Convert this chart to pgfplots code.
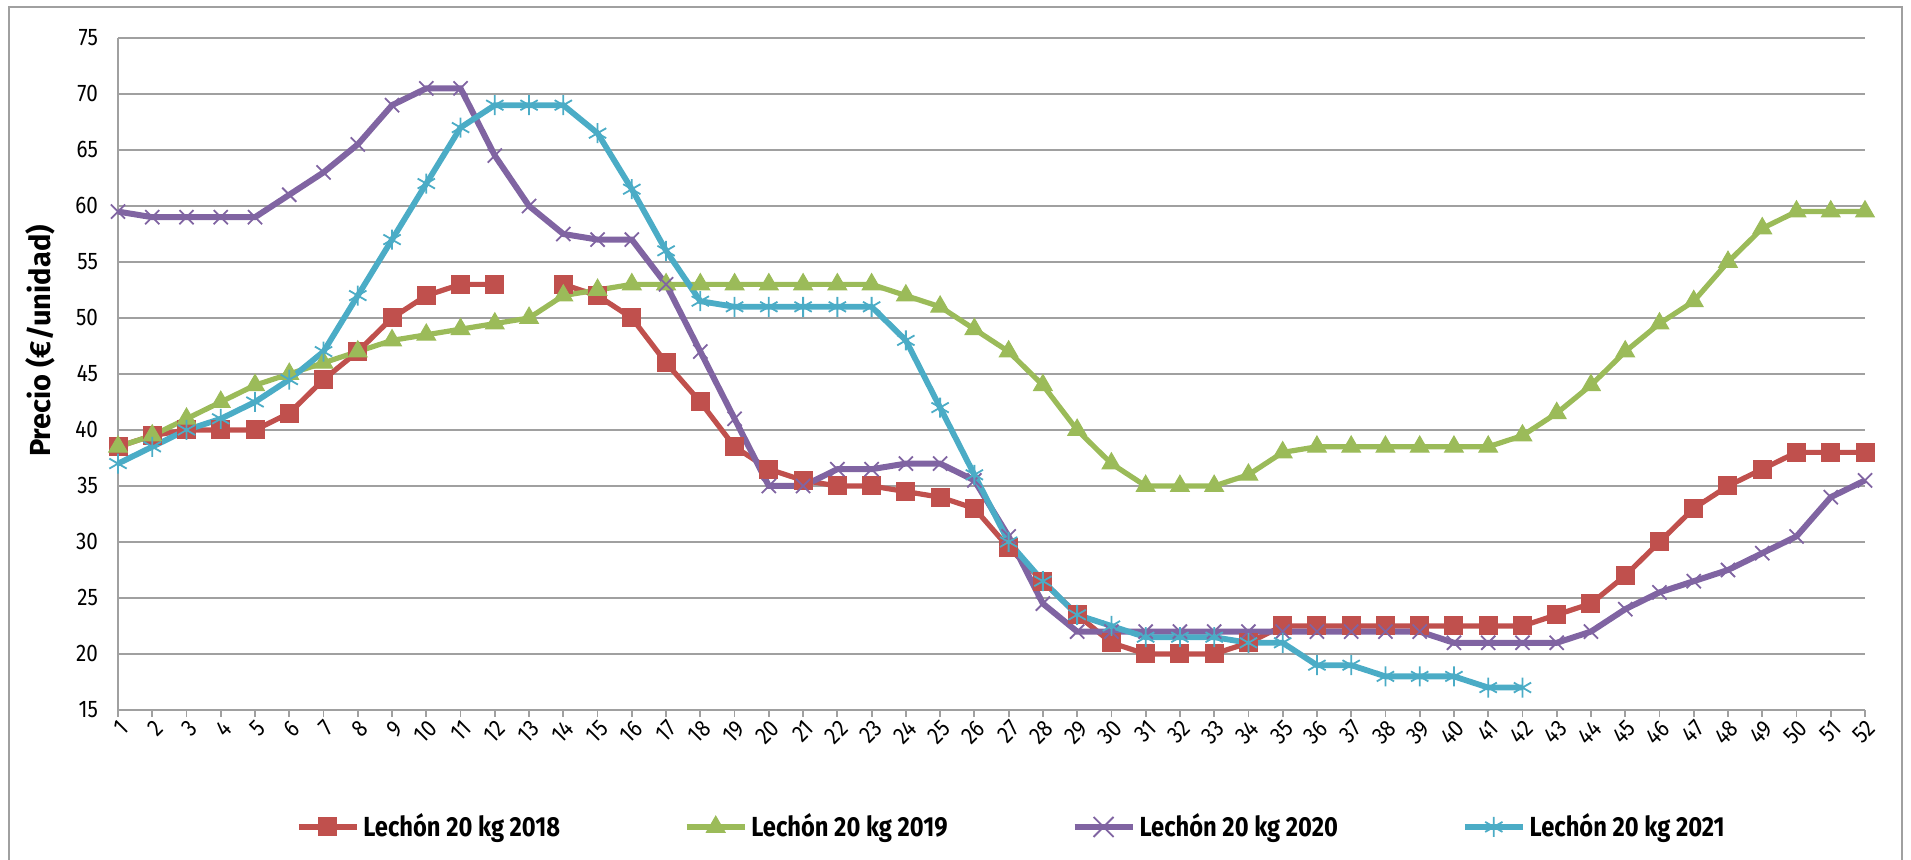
\documentclass[border=0pt]{standalone}
\usepackage{fontspec}
\setmainfont{Fira Sans}
\newfontfamily\condfont{Fira Sans}[FakeStretch=0.86]
\usepackage{pgfplots}
\usepackage{pgfplotstable}
\pgfplotsset{compat=1.18}
\definecolor{cred}{RGB}{192,80,77}
\definecolor{cgreen}{RGB}{155,187,89}
\definecolor{cpurple}{RGB}{128,100,162}
\definecolor{ccyan}{RGB}{75,172,198}
\definecolor{cgrid}{RGB}{160,160,160}
\pgfplotstableread{
w v
1 59.5
2 59
3 59
4 59
5 59
6 61
7 63
8 65.5
9 69
10 70.5
11 70.5
12 64.5
13 60
14 57.5
15 57
16 57
17 53
18 47
19 41
20 35
21 35
22 36.5
23 36.5
24 37
25 37
26 35.5
27 30.5
28 24.5
29 22
30 22
31 22
32 22
33 22
34 22
35 22
36 22
37 22
38 22
39 22
40 21
41 21
42 21
43 21
44 22
45 24
46 25.5
47 26.5
48 27.5
49 29
50 30.5
51 34
52 35.5
}\purpledata
\begin{document}
\begin{tikzpicture}[x=1pt,y=1pt]
\useasboundingbox (0,0) rectangle (955.5,430);
\draw[cgrid, line width=0.9pt] (4.3,-3) -- (4.3,426.5) -- (951,426.5) -- (951,-3);
\node[rotate=90, font=\bfseries\fontsize{14.5}{16}\selectfont] at (20,259.5) {Precio (€/unidad)};
\begin{axis}[
  at={(59pt,75pt)}, anchor=south west,
  scale only axis, width=873.5pt, height=336pt,
  xmin=1, xmax=52, ymin=15, ymax=75,
  xtick={1,...,52}, ytick={15,20,...,75},
  axis x line*=bottom, axis y line*=left,
  axis line style={cgrid, line width=0.9pt, -},
  ymajorgrids, grid style={cgrid, line width=0.9pt},
  ytick style={draw=none},
  xtick style={cgrid, line width=0.9pt},
  tick align=outside, major tick length=3.5pt,
  /pgf/number format/assume math mode=true,
  ticklabel style={font=\condfont\fontsize{12}{13}\selectfont, text=black},
  xticklabel style={rotate=45, anchor=east, yshift=-5pt, xshift=3pt},
  yticklabel style={xshift=-3pt},
  unbounded coords=jump,
  clip=false,
  legend columns=4,
  legend style={at={(axis description cs:0.512,-0.174)}, anchor=center, draw=none,
    font=\condfont\bfseries\fontsize{13.8}{15}\selectfont,
    /tikz/every even column/.append style={column sep=60pt}},
  legend image code/.code={\draw[mark repeat=2,mark phase=2,#1] plot coordinates {(0pt,0pt)(14.5pt,0pt)(29pt,0pt)};},
]
\addplot[draw=cred, line width=2.6pt, mark=square*, mark size=4.5pt, mark options={solid, fill=cred, draw=cred, line width=0.5pt}] coordinates {
(1,38.5)(2,39.5)(3,40)(4,40)(5,40)(6,41.5)(7,44.5)(8,47)(9,50)(10,52)(11,53)(12,53)(13,nan)(14,53)(15,52)(16,50)(17,46)(18,42.5)(19,38.5)(20,36.5)(21,35.5)(22,35)(23,35)(24,34.5)(25,34)(26,33)(27,29.5)(28,26.5)(29,23.5)(30,21)(31,20)(32,20)(33,20)(34,21)(35,22.5)(36,22.5)(37,22.5)(38,22.5)(39,22.5)(40,22.5)(41,22.5)(42,22.5)(43,23.5)(44,24.5)(45,27)(46,30)(47,33)(48,35)(49,36.5)(50,38)(51,38)(52,38)};
\addlegendentry{Lechón 20 kg 2018}
\addplot[draw=cgreen, line width=2.6pt, mark=triangle*, mark size=5.4pt, mark options={solid, fill=cgreen, draw=cgreen, line width=0.5pt}] coordinates {
(1,38.5)(2,39.5)(3,41)(4,42.5)(5,44)(6,45)(7,46)(8,47)(9,48)(10,48.5)(11,49)(12,49.5)(13,50)(14,52)(15,52.5)(16,53)(17,53)(18,53)(19,53)(20,53)(21,53)(22,53)(23,53)(24,52)(25,51)(26,49)(27,47)(28,44)(29,40)(30,37)(31,35)(32,35)(33,35)(34,36)(35,38)(36,38.5)(37,38.5)(38,38.5)(39,38.5)(40,38.5)(41,38.5)(42,39.5)(43,41.5)(44,44)(45,47)(46,49.5)(47,51.5)(48,55)(49,58)(50,59.5)(51,59.5)(52,59.5)};
\addlegendentry{Lechón 20 kg 2019}
\addplot[draw=cpurple, line width=3pt, no markers, forget plot] table[x=w, y=v] {\purpledata};
\addplot[only marks, mark=x, mark size=5pt, mark options={draw=cpurple, line width=0.9pt},
  legend image code/.code={\draw[cpurple, line width=3pt] (0pt,0pt) -- (29pt,0pt); \draw[cpurple, line width=0.9pt] (9.5pt,-5pt) -- (19.5pt,5pt) (9.5pt,5pt) -- (19.5pt,-5pt);}] table[x=w, y=v] {\purpledata};
\addlegendentry{Lechón 20 kg 2020}
\addplot[draw=ccyan, line width=2.9pt, mark=asterisk, mark size=5pt, mark options={solid, draw=ccyan, line width=0.9pt}] coordinates {
(1,37)(2,38.5)(3,40)(4,41)(5,42.5)(6,44.5)(7,47)(8,52)(9,57)(10,62)(11,67)(12,69)(13,69)(14,69)(15,66.5)(16,61.5)(17,56)(18,51.5)(19,51)(20,51)(21,51)(22,51)(23,51)(24,48)(25,42)(26,36)(27,30)(28,26.5)(29,23.5)(30,22.5)(31,21.5)(32,21.5)(33,21.5)(34,21)(35,21)(36,19)(37,19)(38,18)(39,18)(40,18)(41,17)(42,17)};
\addlegendentry{Lechón 20 kg 2021}
\end{axis}
\end{tikzpicture}
\end{document}
